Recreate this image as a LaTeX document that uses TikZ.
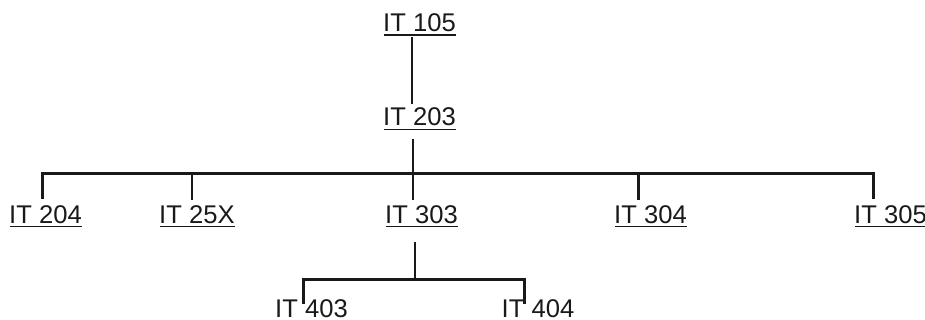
\documentclass[tikz,border=0pt]{standalone}
\usepackage{fontspec}
\setmainfont{Liberation Sans}
\usetikzlibrary{calc}
\begin{document}
\begin{tikzpicture}[x=1pt,y=-1pt,
  lbl/.style={inner sep=0pt,anchor=base west,font=\fontsize{25.6}{30}\selectfont,text=black!90},
  ul/.style={lbl,append after command={([shift={(1,3.7)}]\tikzlastnode.base west) edge[line width=1.4pt,draw=black!90] ([shift={(0,3.7)}]\tikzlastnode.base east)}},
  conn/.style={line width=2.6pt,draw=black!90,line cap=rect}]
\useasboundingbox (0,0) rectangle (925,320);
% nodes
\node[ul] (n105) at (383,31.5) {IT 105};
\node[ul] (n203) at (383,126) {IT 203};
\node[ul] (n204) at (9,223) {IT 204};
\node[ul] (n25x) at (159,223) {IT 25X};
\node[ul] (n303) at (385,223) {IT 303};
\node[ul] (n304) at (614,223) {IT 304};
\node[ul] (n305) at (854,223) {IT 305};
\node[lbl] (n403) at (275,317.5) {IT 403};
\node[lbl] (n404) at (501.5,317.5) {IT 404};
% connector points
\coordinate (b105) at ($(n105.base west)+(29,7)$);
\coordinate (t203) at ($(n203.base west)+(29,-23)$);
\coordinate (b203) at ($(n203.base west)+(30,14)$);
\coordinate (bus1) at ($(n203.base west)+(30,47.5)$);
\coordinate (t204) at ($(n204.base west)+(33.5,-24)$);
\coordinate (t25x) at ($(n25x.base west)+(33,-24)$);
\coordinate (t303) at ($(n303.base west)+(28,-24)$);
\coordinate (t304) at ($(n304.base west)+(24.5,-24)$);
\coordinate (t305) at ($(n305.base west)+(19.5,-24)$);
\coordinate (b303) at ($(n303.base west)+(30,20)$);
\coordinate (bus2) at ($(n303.base west)+(30,56.3)$);
\coordinate (t403) at ($(n403.base west)+(28.3,-13.5)$);
\coordinate (t404) at ($(n404.base west)+(22.8,-13.5)$);
% connectors
\draw[conn] (b105) -- (t203);
\draw[conn] (b203) -- (bus1);
\draw[conn,line cap=butt] (t204) |- (bus1) -| (t305);
\draw[conn] (t25x) -- (t25x |- bus1);
\draw[conn] (t303) -- (t303 |- bus1);
\draw[conn] (t304) -- (t304 |- bus1);
\draw[conn] (b303) -- (bus2);
\draw[conn,line cap=butt] (t403) |- (bus2) -| (t404);
\end{tikzpicture}
\end{document}
